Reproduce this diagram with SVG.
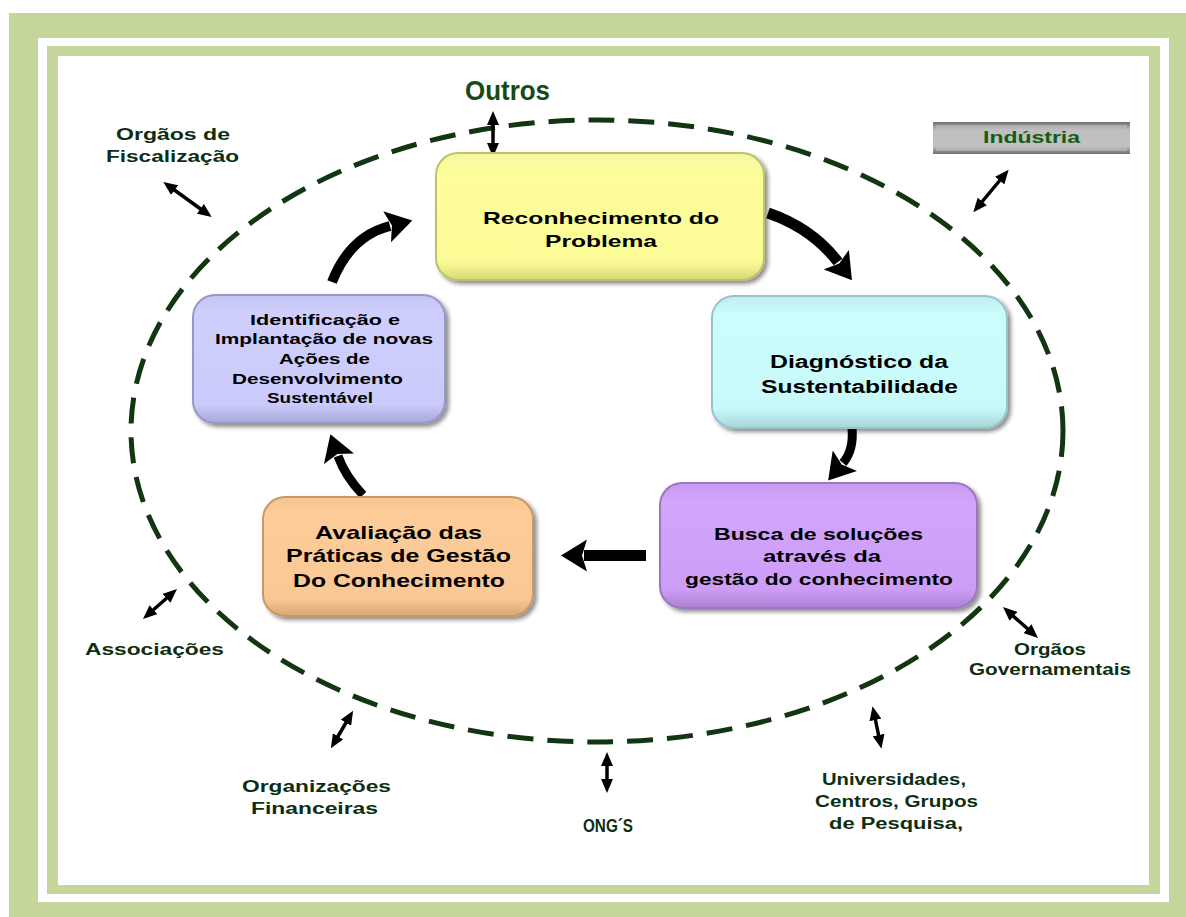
<svg xmlns="http://www.w3.org/2000/svg" width="1186" height="917" viewBox="0 0 1186 917">
<style>
.lbl{font-family:"Liberation Sans",Arial,sans-serif;font-weight:bold;font-size:16px;fill:#0d2e12;text-anchor:middle}
.bx{font-family:"Liberation Sans",Arial,sans-serif;font-weight:bold;font-size:17px;fill:#000;text-anchor:middle}
.box{stroke-width:2;filter:url(#sh)}
.big{fill:none;stroke:#000;stroke-linecap:butt}
.thin{fill:none;stroke:#000;stroke-width:3.5}
</style>
<defs>
<filter id="sh" x="-10%" y="-10%" width="125%" height="130%">
<feGaussianBlur in="SourceAlpha" stdDeviation="2"/>
<feOffset dx="3" dy="3" result="o"/>
<feComponentTransfer><feFuncA type="linear" slope="0.45"/></feComponentTransfer>
<feMerge><feMergeNode/><feMergeNode in="SourceGraphic"/></feMerge>
</filter>
<linearGradient id="gy" x1="0" y1="0" x2="0" y2="1"><stop offset="0" stop-color="#f6f6a0"/><stop offset="0.15" stop-color="#fdfd9c"/><stop offset="0.85" stop-color="#fbfb96"/><stop offset="1" stop-color="#d8d878"/></linearGradient>
<linearGradient id="gc" x1="0" y1="0" x2="0" y2="1"><stop offset="0" stop-color="#c2eef0"/><stop offset="0.15" stop-color="#ccfdfd"/><stop offset="0.85" stop-color="#c8fafa"/><stop offset="1" stop-color="#a8d4d8"/></linearGradient>
<linearGradient id="gp" x1="0" y1="0" x2="0" y2="1"><stop offset="0" stop-color="#c89af0"/><stop offset="0.15" stop-color="#d2a4fb"/><stop offset="0.85" stop-color="#cd9ef8"/><stop offset="1" stop-color="#aa80d0"/></linearGradient>
<linearGradient id="go" x1="0" y1="0" x2="0" y2="1"><stop offset="0" stop-color="#f6c690"/><stop offset="0.15" stop-color="#fdcc98"/><stop offset="0.85" stop-color="#fac894"/><stop offset="1" stop-color="#d8a874"/></linearGradient>
<linearGradient id="gl" x1="0" y1="0" x2="0" y2="1"><stop offset="0" stop-color="#c6c6f6"/><stop offset="0.15" stop-color="#cfcffd"/><stop offset="0.85" stop-color="#cbcbfb"/><stop offset="1" stop-color="#a8a8d8"/></linearGradient>
<linearGradient id="gg" x1="0" y1="0" x2="0" y2="1"><stop offset="0" stop-color="#6e6e6e"/><stop offset="0.25" stop-color="#bdbdbd"/><stop offset="0.75" stop-color="#c2c2c2"/><stop offset="1" stop-color="#6e6e6e"/></linearGradient>
<marker id="hd" markerUnits="userSpaceOnUse" viewBox="0 0 26 32" markerWidth="26" markerHeight="32" refX="3" refY="16" orient="auto">
<path d="M0,0 L26,16 L0,32 L5,16 Z" fill="#000"/>
</marker>
<marker id="sm" markerUnits="userSpaceOnUse" viewBox="0 0 14 12" markerWidth="14" markerHeight="12" refX="2" refY="6" orient="auto-start-reverse">
<path d="M0,0 L14,6 L0,12 Z" fill="#000"/>
</marker>
</defs>

<g id="frame">
<rect x="9" y="13" width="1177" height="904" fill="#c5d69c"/>
<rect x="38" y="38" width="1131" height="864" fill="#fff"/>
<rect x="47" y="46" width="1113" height="848" fill="#c5d69c"/>
<rect x="58" y="56" width="1091" height="829" fill="#fff"/>
</g>

<g id="boundary">
<ellipse cx="597" cy="431" rx="466" ry="311" fill="none" stroke="#123512" stroke-width="5" stroke-dasharray="26 14"/>
</g>

<g id="connectors">
<path class="big" d="M768,213 Q812,228 838,262" stroke-width="11" marker-end="url(#hd)"/>
<path class="big" d="M852,428 Q854,450 843,463" stroke-width="9" marker-end="url(#hd)"/>
<path class="big" d="M646,555.5 L584,555.5" stroke-width="11" marker-end="url(#hd)"/>
<path class="big" d="M363,495 Q345,476 338,456" stroke-width="9" marker-end="url(#hd)"/>
<path class="big" d="M332,282 Q350,236 390,226" stroke-width="10" marker-end="url(#hd)"/>
<line class="thin" x1="493" y1="123" x2="493" y2="145" stroke-width="2.5" marker-start="url(#sm)" marker-end="url(#sm)"/>
<line class="thin" x1="173" y1="189" x2="202" y2="210" marker-start="url(#sm)" marker-end="url(#sm)"/>
<line class="thin" x1="1001" y1="179" x2="981" y2="203" marker-start="url(#sm)" marker-end="url(#sm)"/>
<line class="thin" x1="168" y1="597" x2="152" y2="611" marker-start="url(#sm)" marker-end="url(#sm)"/>
<line class="thin" x1="1012" y1="615" x2="1029" y2="630" marker-start="url(#sm)" marker-end="url(#sm)"/>
<line class="thin" x1="347" y1="721" x2="337" y2="738" marker-start="url(#sm)" marker-end="url(#sm)"/>
<line class="thin" x1="607" y1="764" x2="607" y2="781" marker-start="url(#sm)" marker-end="url(#sm)"/>
<line class="thin" x1="875" y1="718" x2="879" y2="737" marker-start="url(#sm)" marker-end="url(#sm)"/>
</g>

<g id="n-reconhecimento">
<rect class="box" x="436" y="153" width="328" height="127" rx="22" fill="url(#gy)" stroke="#c0c070"/>
<text class="bx" x="601" y="224" textLength="236" lengthAdjust="spacingAndGlyphs">Reconhecimento do</text>
<text class="bx" x="601" y="247" textLength="112" lengthAdjust="spacingAndGlyphs">Problema</text>
</g>

<g id="n-diagnostico">
<rect class="box" x="712" y="296" width="295" height="132" rx="22" fill="url(#gc)" stroke="#98c4c8"/>
<text class="bx" x="859" y="368" style="font-size:18px" textLength="178" lengthAdjust="spacingAndGlyphs">Diagnóstico da</text>
<text class="bx" x="859.5" y="393" style="font-size:18px" textLength="197" lengthAdjust="spacingAndGlyphs">Sustentabilidade</text>
</g>

<g id="n-busca">
<rect class="box" x="660" y="483" width="317" height="125" rx="22" fill="url(#gp)" stroke="#9a78c0"/>
<text class="bx" x="818.5" y="540" textLength="209" lengthAdjust="spacingAndGlyphs">Busca de soluções</text>
<text class="bx" x="822" y="562" textLength="118" lengthAdjust="spacingAndGlyphs">através  da</text>
<text class="bx" x="819" y="585" textLength="268" lengthAdjust="spacingAndGlyphs">gestão do conhecimento</text>
</g>

<g id="n-avaliacao">
<rect class="box" x="263" y="497" width="270" height="119" rx="22" fill="url(#go)" stroke="#c89868"/>
<text class="bx" x="398.5" y="539" style="font-size:19px" textLength="167" lengthAdjust="spacingAndGlyphs">Avaliação das</text>
<text class="bx" x="398.5" y="562" style="font-size:19px" textLength="225" lengthAdjust="spacingAndGlyphs">Práticas de Gestão</text>
<text class="bx" x="399" y="587" style="font-size:19px" textLength="212" lengthAdjust="spacingAndGlyphs">Do Conhecimento</text>
</g>

<g id="n-identificacao">
<rect class="box" x="193" y="295" width="252" height="128" rx="22" fill="url(#gl)" stroke="#9898c8"/>
<text class="bx" x="325" y="325" style="font-size:15px" textLength="150" lengthAdjust="spacingAndGlyphs">Identificação e</text>
<text class="bx" x="324" y="344" style="font-size:15px" textLength="218" lengthAdjust="spacingAndGlyphs">Implantação de novas</text>
<text class="bx" x="324.5" y="364" style="font-size:15px" textLength="91" lengthAdjust="spacingAndGlyphs">Ações de</text>
<text class="bx" x="317.5" y="384" style="font-size:15px" textLength="171" lengthAdjust="spacingAndGlyphs">Desenvolvimento</text>
<text class="bx" x="320" y="403" style="font-size:15px" textLength="106" lengthAdjust="spacingAndGlyphs">Sustentável</text>
</g>

<g id="n-outros">
<text class="lbl" x="507.5" y="100" style="font-size:27px;fill:#154a15" textLength="85" lengthAdjust="spacingAndGlyphs">Outros</text>
</g>

<g id="n-fiscalizacao">
<text class="lbl" x="173" y="140" textLength="114" lengthAdjust="spacingAndGlyphs">Orgãos de</text>
<text class="lbl" x="172.5" y="162" textLength="133" lengthAdjust="spacingAndGlyphs">Fiscalização</text>
</g>

<g id="n-industria">
<rect x="933" y="122" width="197" height="32" fill="url(#gg)"/>
<rect x="936" y="125" width="191" height="26" fill="#bfbfbf" opacity="0.6"/>
<text class="lbl" x="1031.5" y="143" style="fill:#175a1a" textLength="97" lengthAdjust="spacingAndGlyphs">Indústria</text>
</g>

<g id="n-associacoes">
<text class="lbl" x="154.5" y="655" textLength="139" lengthAdjust="spacingAndGlyphs">Associações</text>
</g>

<g id="n-governamentais">
<text class="lbl" x="1050" y="655" textLength="72" lengthAdjust="spacingAndGlyphs">Orgãos</text>
<text class="lbl" x="1050" y="675" textLength="162" lengthAdjust="spacingAndGlyphs">Governamentais</text>
</g>

<g id="n-financeiras">
<text class="lbl" x="316.5" y="792" textLength="149" lengthAdjust="spacingAndGlyphs">Organizações</text>
<text class="lbl" x="314.5" y="814" textLength="127" lengthAdjust="spacingAndGlyphs">Financeiras</text>
</g>

<g id="n-ongs">
<text class="lbl" x="608" y="832" style="font-size:18px" textLength="50" lengthAdjust="spacingAndGlyphs">ONG´S</text>
</g>

<g id="n-universidades">
<text class="lbl" x="894" y="785" textLength="144" lengthAdjust="spacingAndGlyphs">Universidades,</text>
<text class="lbl" x="896.5" y="807" textLength="163" lengthAdjust="spacingAndGlyphs">Centros, Grupos</text>
<text class="lbl" x="896" y="829" textLength="134" lengthAdjust="spacingAndGlyphs">de Pesquisa,</text>
</g>
</svg>
